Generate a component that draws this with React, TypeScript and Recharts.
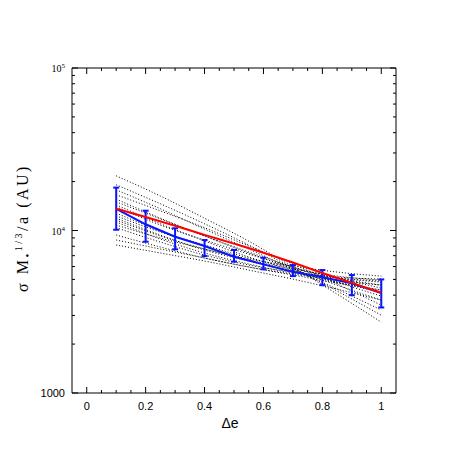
import { LineChart, Line, XAxis, YAxis, ErrorBar } from "recharts";

// mean of the runs, with its spread, at each Δe
const DELTA_E = [0.1, 0.2, 0.3, 0.4, 0.5, 0.6, 0.7, 0.8, 0.9, 1.0];
const MEAN = [13570, 10920, 9160, 8020, 6900, 6190, 5570, 5150, 4730, 4120];
const MEAN_LO = [10110, 8530, 7660, 6960, 6430, 5770, 5240, 4610, 4000, 3360];
const MEAN_HI = [18360, 13240, 10320, 8740, 7590, 6800, 6130, 5710, 5320, 5000];
// red fit
const FIT = [13600, 12100, 10700, 9400, 8300, 7300, 6350, 5480, 4760, 4140];

// individual runs (dotted)
const RUN_X = [0.1, 0.25, 0.4, 0.55, 0.7, 0.85, 1.0];
const RUNS = [
  [21700, 16300, 11900, 8600, 5960, 4060, 2730],
  [19100, 14600, 11000, 8140, 5870, 4240, 3010],
  [17800, 13600, 10200, 7690, 5790, 4360, 3240],
  [16600, 13200, 10400, 8030, 6220, 4680, 3470],
  [15600, 11900, 9250, 7270, 5790, 4610, 3730],
  [15000, 11800, 9250, 7370, 5960, 4810, 3950],
  [14400, 11000, 8620, 6870, 5710, 4810, 4180],
  [14000, 10800, 8740, 7160, 5960, 5100, 4420],
  [12800, 9930, 8030, 6580, 5550, 4810, 4300],
  [12300, 9790, 8140, 6770, 5870, 5100, 4610],
  [11900, 9380, 7580, 6490, 5630, 5100, 4810],
  [11600, 9250, 7690, 6580, 5790, 5240, 4950],
  [11300, 8860, 7270, 6220, 5470, 5100, 4880],
  [10800, 8990, 7690, 6670, 6040, 5550, 5240],
  [10400, 8490, 7060, 6130, 5550, 5170, 5020],
  [9380, 7910, 6770, 5960, 5390, 4950, 4610],
  [8740, 7690, 6770, 5960, 5320, 4750, 4300],
  [8140, 7270, 6490, 5710, 5020, 4360, 3730],
];

const X_TICKS = [0, 0.05, 0.1, 0.15, 0.2, 0.25, 0.3, 0.35, 0.4, 0.45, 0.5, 0.55, 0.6, 0.65, 0.7, 0.75, 0.8, 0.85, 0.9, 0.95, 1];
const X_MAJOR = [0, 0.2, 0.4, 0.6, 0.8, 1];
const X_MAJOR_LABELS = ["0", "0.2", "0.4", "0.6", "0.8", "1"];
const Y_TICKS = [
  1000, 2000, 3000, 4000, 5000, 6000, 7000, 8000, 9000,
  10000, 20000, 30000, 40000, 50000, 60000, 70000, 80000, 90000, 100000,
];
const Y_MAJOR = [1000, 10000, 100000];

const SANS = "'Liberation Sans', Arial, Helvetica, sans-serif";
const SERIF = "'Liberation Serif', 'Times New Roman', serif";

const meanData = DELTA_E.map((x, i) => ({
  x,
  y: MEAN[i],
  err: [MEAN[i] - MEAN_LO[i], MEAN_HI[i] - MEAN[i]],
}));
const fitData = DELTA_E.map((x, i) => ({ x, y: FIT[i] }));
const runData = RUNS.map((run) => RUN_X.map((x, i) => ({ x, y: run[i] })));

function XTick(props: any) {
  const { x, y, payload, top } = props;
  const i = X_MAJOR.findIndex((m) => Math.abs(m - payload.value) < 1e-9);
  const len = i >= 0 ? 6 : 3;
  const dir = top ? 1 : -1;
  return (
    <g>
      <line x1={x} x2={x} y1={y} y2={y + dir * len} stroke="#000" strokeWidth={1} />
      {!top && i >= 0 && (
        <text x={x} y={y + 17} textAnchor="middle" fontFamily={SANS} fontSize={11} fill="#000">
          {X_MAJOR_LABELS[i]}
        </text>
      )}
    </g>
  );
}

function YTick(props: any) {
  const { x, y, payload, right } = props;
  const v = payload.value;
  const major = Y_MAJOR.includes(v);
  const len = major ? 6 : 3;
  const dir = right ? -1 : 1;
  let label = null;
  if (!right && major) {
    label =
      v === 1000 ? (
        <text x={x - 7} y={y + 4} textAnchor="end" fontFamily={SANS} fontSize={11} fill="#000">
          1000
        </text>
      ) : (
        <text x={x - 7} y={y + 4} textAnchor="end" fontFamily={SERIF} fontSize={10} fill="#000">
          10
          <tspan dy={-4} fontSize={7}>
            {Math.round(Math.log10(v))}
          </tspan>
        </text>
      );
  }
  return (
    <g>
      <line x1={x} x2={x + dir * len} y1={y} y2={y} stroke="#000" strokeWidth={1} />
      {label}
    </g>
  );
}

export default function App() {
  return (
    <div style={{ position: "absolute", left: 0, top: 0, width: 463, height: 463, background: "#fff" }}>
      <LineChart width={463} height={463} margin={{ top: 67, right: 66, bottom: 69, left: 71 }}>
        <XAxis
          xAxisId="b"
          dataKey="x"
          type="number"
          domain={[-0.05, 1.05]}
          ticks={X_TICKS}
          interval={0}
          height={1}
          tickSize={0}
          tickMargin={0}
          axisLine={{ stroke: "#000" }}
          tickLine={false}
          tick={(p: any) => <XTick {...p} />}
          allowDataOverflow
        />
        <XAxis
          xAxisId="t"
          orientation="top"
          dataKey="x"
          type="number"
          domain={[-0.05, 1.05]}
          ticks={X_TICKS}
          interval={0}
          height={1}
          tickSize={0}
          tickMargin={0}
          axisLine={{ stroke: "#000" }}
          tickLine={false}
          tick={(p: any) => <XTick {...p} top />}
          allowDataOverflow
        />
        <YAxis
          yAxisId="l"
          type="number"
          scale="log"
          domain={[1000, 100000]}
          ticks={Y_TICKS}
          interval={0}
          width={1}
          tickSize={0}
          tickMargin={0}
          axisLine={{ stroke: "#000" }}
          tickLine={false}
          tick={(p: any) => <YTick {...p} />}
          allowDataOverflow
        />
        <YAxis
          yAxisId="r"
          orientation="right"
          type="number"
          scale="log"
          domain={[1000, 100000]}
          ticks={Y_TICKS}
          interval={0}
          width={1}
          tickSize={0}
          tickMargin={0}
          axisLine={{ stroke: "#000" }}
          tickLine={false}
          tick={(p: any) => <YTick {...p} right />}
          allowDataOverflow
        />
        {runData.map((d, i) => (
          <Line
            key={"run" + i}
            xAxisId="b"
            yAxisId="l"
            data={d}
            dataKey="y"
            type="monotone"
            stroke="#000"
            strokeWidth={1}
            strokeDasharray="1 2"
            dot={false}
            isAnimationActive={false}
          />
        ))}
        <Line
          xAxisId="b"
          yAxisId="l"
          data={meanData}
          dataKey="y"
          type="linear"
          stroke="#0a14ff"
          strokeWidth={2}
          dot={false}
          isAnimationActive={false}
        >
          <ErrorBar dataKey="err" direction="y" width={3} stroke="#0a14ff" strokeWidth={2} isAnimationActive={false} />
        </Line>
        <Line
          xAxisId="b"
          yAxisId="l"
          data={fitData}
          dataKey="y"
          type="monotone"
          stroke="#ff0000"
          strokeWidth={2}
          dot={false}
          isAnimationActive={false}
        />
      </LineChart>
      <svg width={463} height={463} style={{ position: "absolute", left: 0, top: 0, pointerEvents: "none" }}>
        <text x={230} y={428} textAnchor="middle" fontFamily={SANS} fontSize={14} fill="#000">
          Δe
        </text>
        <text
          transform="translate(28,228) rotate(-90)"
          textAnchor="middle"
          fontFamily={SERIF}
          fontSize={16}
          letterSpacing={2.5}
          fill="#000"
        >
          σ M
          <tspan dy={3} fontSize={11}>•</tspan>
          <tspan dy={-9} fontSize={10}>1/3</tspan>
          <tspan dy={6}>/a (AU)</tspan>
        </text>
      </svg>
    </div>
  );
}
